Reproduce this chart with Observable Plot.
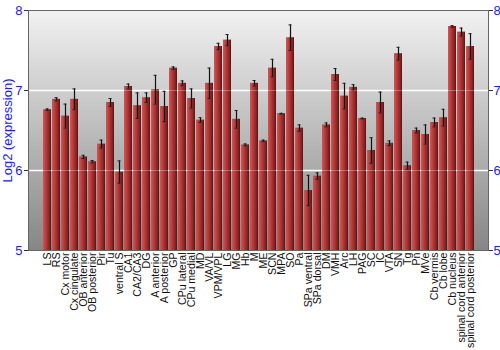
<!DOCTYPE html>
<html><head><meta charset="utf-8">
<script src="https://cdn.jsdelivr.net/npm/d3@7"></script>
<script src="https://cdn.jsdelivr.net/npm/@observablehq/plot@0.6"></script>
<style>body{margin:0;background:#fff;}</style>
</head><body><div id="chart"></div>
<script>
const regions = ["LS","RS","Cx motor","Cx cingulate","OB anterior","OB posterior","Pir","Tu","ventral S","CA1","CA2/CA3","DG","A anterior","A posterior","GP","CPu lateral","CPu medial","MD","VA/VL","VPM/VPL","LG","MG","Hb","M","ME","SCN","MPA","SO","Pa","SPa ventral","SPa dorsal","DM","VMH","Arc","LH","PAG","SC","IC","VTA","SN","Tg","Pn","MVe","Cb vermis","Cb lobe","Cb nucleus","spinal cord anterior","spinal cord posterior"];
const values = [6.76,6.89,6.68,6.89,6.17,6.11,6.33,6.85,5.98,7.05,6.81,6.91,7.01,6.80,7.28,7.09,6.90,6.63,7.09,7.55,7.63,6.64,6.32,7.09,6.37,7.28,6.71,7.66,6.53,5.75,5.93,6.57,7.20,6.93,7.04,6.65,6.25,6.85,6.34,7.46,6.06,6.50,6.45,6.60,6.66,7.80,7.73,7.55];
const errors = [0.01,0.02,0.15,0.13,0.02,0.015,0.05,0.05,0.14,0.03,0.16,0.06,0.18,0.19,0.015,0.03,0.12,0.03,0.19,0.04,0.07,0.11,0.012,0.035,0.01,0.11,0.005,0.16,0.04,0.19,0.04,0.025,0.075,0.16,0.033,0.005,0.16,0.13,0.03,0.08,0.045,0.03,0.12,0.055,0.105,0.01,0.05,0.16];
const yTicks = [5,6,7,8];
const yDomain = [5,8];
const data = regions.map((r,i)=>({region:r, value:values[i], err:errors[i]}));

function defs() {
  const g = d3.create("svg:g");
  const d = g.append("defs");
  const bg = d.append("linearGradient").attr("id","bgGrad").attr("x1",0).attr("y1",0).attr("x2",0).attr("y2",1);
  bg.append("stop").attr("offset","0%").attr("stop-color","#f2f2f2");
  bg.append("stop").attr("offset","100%").attr("stop-color","#868686");
  const bar = d.append("linearGradient").attr("id","barGrad").attr("x1",0).attr("y1",0).attr("x2",1).attr("y2",0);
  bar.append("stop").attr("offset","0%").attr("stop-color","#cc5858");
  bar.append("stop").attr("offset","35%").attr("stop-color","#b83c3c");
  bar.append("stop").attr("offset","75%").attr("stop-color","#8e2424");
  bar.append("stop").attr("offset","100%").attr("stop-color","#5e1010");
  return g.node();
}

const chart = Plot.plot({
  width: 500, height: 350,
  marginLeft: 28, marginRight: 12, marginTop: 10, marginBottom: 100,
  style: {fontFamily: "'Liberation Sans', Arial, sans-serif", background: "white"},
  x: {domain: regions, padding: 0.13, label: null},
  y: {domain: yDomain, label: "Log2 (expression)"},
  marks: [
    defs,
    Plot.frame({fill: "url(#bgGrad)", stroke: null}),
    Plot.ruleY([6,7], {stroke: "white", strokeWidth: 1.5}),
    Plot.barY(data, {x: "region", y1: 5, y2: "value", fill: "url(#barGrad)"}),
    Plot.ruleY([6,7], {stroke: "white", strokeOpacity: 0.3}),
    Plot.ruleX(data, {x: "region", y1: d => d.value - d.err, y2: d => d.value + d.err, stroke: "#111", strokeWidth: 1.2}),
    Plot.tickY(data, {x: "region", y: d => d.value + d.err, insetLeft: 2.5, insetRight: 2.5, stroke: "#222"}),
    Plot.tickY(data, {x: "region", y: d => d.value - d.err, insetLeft: 2.5, insetRight: 2.5, stroke: "#222"}),
    Plot.axisY({anchor: "left", ticks: yTicks, tickFormat: "d", tickSize: 4, tickPadding: 2, fontSize: 13, fill: "#1a1aff", stroke: "#333",
      label: "Log2 (expression)", labelAnchor: "center", labelArrow: "none", labelOffset: 26}),
    Plot.axisY({anchor: "right", ticks: yTicks, tickFormat: "d", tickSize: 4, tickPadding: 1, fontSize: 13, fill: "#1a1aff", stroke: "#333", label: null}),
    Plot.axisX({tickRotate: -90, tickSize: 0, tickPadding: 2, fontSize: 10.6, label: null, fill: "#111"}),
    Plot.frame({stroke: "#666"})
  ]
});
document.getElementById("chart").append(chart);
</script>
</body></html>
